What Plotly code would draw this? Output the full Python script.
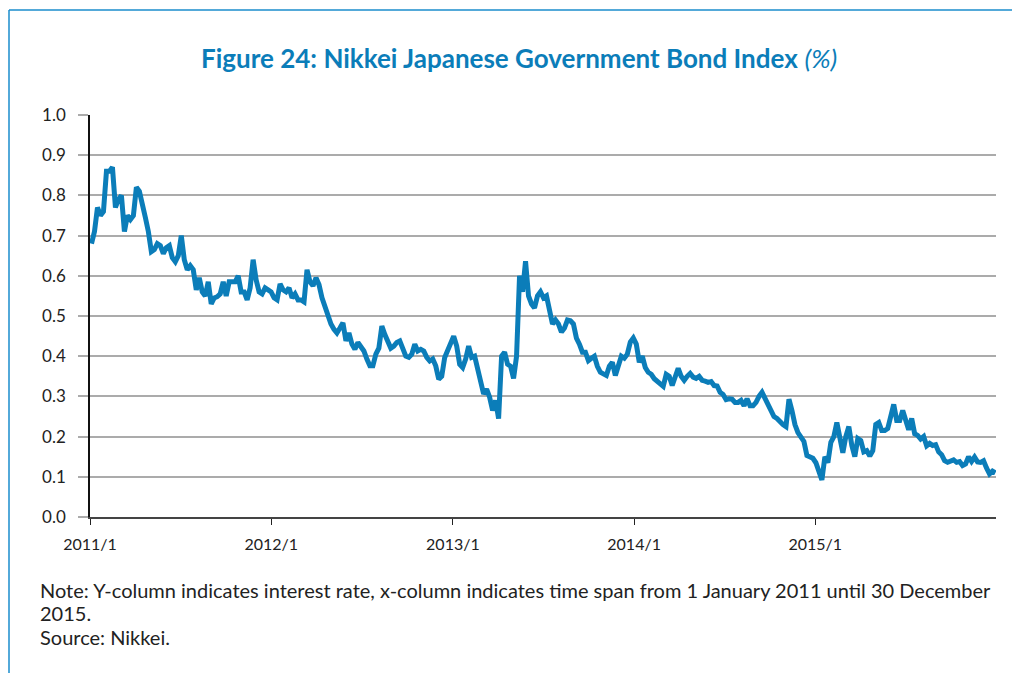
import pandas as pd
import plotly.graph_objects as go

# Nikkei JGB index yield (%), sampled roughly weekly, 2011-01 .. 2015-12
start_date = "2011-01-04"
end_date = "2015-12-30"
yields = [
    0.68, 0.71, 0.77, 0.75, 0.76, 0.86, 0.86, 0.87, 0.77, 0.79,
    0.80, 0.71, 0.75, 0.74, 0.75, 0.82, 0.81, 0.77, 0.745, 0.71,
    0.66, 0.665, 0.68, 0.675, 0.655, 0.67, 0.675, 0.645, 0.635, 0.65,
    0.70, 0.64, 0.615, 0.625, 0.615, 0.565, 0.595, 0.56, 0.55, 0.585,
    0.53, 0.545, 0.548, 0.555, 0.585, 0.55, 0.585, 0.585, 0.585, 0.60,
    0.56, 0.56, 0.54, 0.57, 0.64, 0.59, 0.56, 0.555, 0.57, 0.565,
    0.56, 0.545, 0.54, 0.58, 0.565, 0.56, 0.57, 0.545, 0.555, 0.54,
    0.54, 0.535, 0.615, 0.585, 0.575, 0.595,
    0.578, 0.545, 0.52, 0.495, 0.48, 0.467, 0.458, 0.47, 0.483, 0.438,
    0.458, 0.43, 0.417, 0.434, 0.425, 0.413, 0.393, 0.376, 0.376, 0.405,
    0.42, 0.475, 0.454, 0.438, 0.42, 0.425, 0.434, 0.438, 0.417, 0.40,
    0.397, 0.405, 0.43, 0.413, 0.417, 0.413, 0.397, 0.388, 0.393, 0.376,
    0.343, 0.35, 0.397, 0.417, 0.438, 0.45, 0.425, 0.38, 0.372, 0.393,
    0.425, 0.397, 0.40, 0.368, 0.34, 0.306, 0.318, 0.298, 0.265, 0.29,
    0.245, 0.40, 0.41, 0.38, 0.375, 0.345, 0.40,
    0.60, 0.56, 0.636, 0.55, 0.53, 0.52, 0.55, 0.56, 0.545, 0.55,
    0.517, 0.48, 0.49, 0.48, 0.46, 0.47, 0.49, 0.488, 0.48, 0.445,
    0.43, 0.41, 0.41, 0.389, 0.395, 0.40, 0.375, 0.36, 0.356, 0.352,
    0.375, 0.385, 0.352, 0.38, 0.40, 0.395, 0.405, 0.435, 0.445, 0.43,
    0.385, 0.40, 0.372, 0.36, 0.355, 0.344, 0.338, 0.331, 0.325, 0.355,
    0.35, 0.327, 0.35, 0.37,
    0.35, 0.34, 0.35, 0.357, 0.348, 0.345, 0.35, 0.34, 0.338, 0.335,
    0.337, 0.327, 0.326, 0.31, 0.305, 0.292, 0.294, 0.293, 0.285, 0.285,
    0.29, 0.277, 0.294, 0.277, 0.277, 0.285, 0.30, 0.31,
    0.295, 0.28, 0.268, 0.25, 0.245, 0.235, 0.23, 0.225, 0.293, 0.265,
    0.23, 0.21, 0.20, 0.188, 0.153, 0.149, 0.146, 0.135, 0.115, 0.092,
    0.15, 0.135, 0.186, 0.20, 0.235, 0.198, 0.16, 0.20, 0.225, 0.178,
    0.15, 0.195, 0.19, 0.162, 0.165, 0.152, 0.165, 0.23, 0.235, 0.215,
    0.215, 0.22, 0.256, 0.28, 0.24, 0.24, 0.265, 0.24, 0.217, 0.245,
    0.207, 0.203, 0.194, 0.20, 0.177, 0.183, 0.178, 0.18, 0.162, 0.155,
    0.14, 0.136, 0.14, 0.142, 0.136, 0.138, 0.128, 0.132, 0.15, 0.138,
    0.149, 0.137, 0.136, 0.14, 0.122, 0.107, 0.114, 0.11,
]
dates = pd.date_range(start_date, end_date, periods=len(yields))

y_ticks = [0.0, 0.1, 0.2, 0.3, 0.4, 0.5, 0.6, 0.7, 0.8, 0.9, 1.0]
y_tick_labels = ["0.0", "0.1", "0.2", "0.3", "0.4", "0.5", "0.6", "0.7", "0.8", "0.9", "1.0"]

title_main = "Figure 24: Nikkei Japanese Government Bond Index"
title_unit = "(%)"
note_lines = [
    "Note: Y-column indicates interest rate, x-column indicates time span from 1 January 2011 until 30 December",
    "2015.",
    "Source: Nikkei.",
]

BLUE = "#0b7db9"
FONT = "Lato"

# the page body has an 8px margin; plot area spans page x 90..996, y 115..517
def px(x):
    return (x - 90) / 906

def py(y):
    return (517 - y) / 402

fig = go.Figure()
fig.add_trace(go.Scatter(
    x=dates, y=yields, mode="lines",
    line=dict(color=BLUE, width=5),
    hoverinfo="x+y",
))

fig.update_layout(
    width=1012, height=665,
    margin=dict(l=82, r=24, t=107, b=156),
    paper_bgcolor="white", plot_bgcolor="white",
    showlegend=False,
    font=dict(family=FONT, color="#222222", size=16),
    xaxis=dict(
        range=["2011-01-01", "2015-12-31"],
        tick0="2011-01-01", dtick="M12", tickformat="%Y/%-m",
        showgrid=False, zeroline=False,
        showline=True, linecolor="#444444", linewidth=2,
        ticks="outside", ticklen=6, tickcolor="#222222", tickwidth=1,
        ticklabelstandoff=6,
        tickfont=dict(size=16, color="#222222"),
    ),
    yaxis=dict(
        range=[0, 1.0],
        tickvals=y_ticks, ticktext=y_tick_labels,
        showgrid=True, gridcolor="#ababab", gridwidth=1.5,
        zeroline=False,
        showline=True, linecolor="#111111", linewidth=1.5,
        ticks="outside", ticklen=10, tickcolor="#ababab", tickwidth=1.5,
        ticklabelstandoff=9,
        tickfont=dict(size=17, color="#222222"),
    ),
)

fig.add_annotation(
    xref="paper", yref="paper", x=px(519), y=py(58),
    xanchor="center", yanchor="middle", showarrow=False,
    text=f"<b>{title_main}</b> <i>{title_unit}</i>",
    font=dict(family=FONT, size=26, color=BLUE),
)

for line_text, line_y in zip(note_lines, [590, 613, 637]):
    fig.add_annotation(
        xref="paper", yref="paper", x=px(38), y=py(line_y),
        xanchor="left", yanchor="middle", align="left", showarrow=False,
        text=line_text,
        font=dict(family=FONT, size=20, color="#222222"),
    )

# frame lines (top and left border)
fig.add_shape(type="line", xref="paper", yref="paper",
              x0=px(9), x1=px(1030), y0=py(10), y1=py(10),
              line=dict(color="#1a8ccc", width=1.5))
fig.add_shape(type="line", xref="paper", yref="paper",
              x0=px(9), x1=px(9), y0=py(10), y1=py(690),
              line=dict(color="#1a8ccc", width=1.5))

fig.write_html("out.html")
